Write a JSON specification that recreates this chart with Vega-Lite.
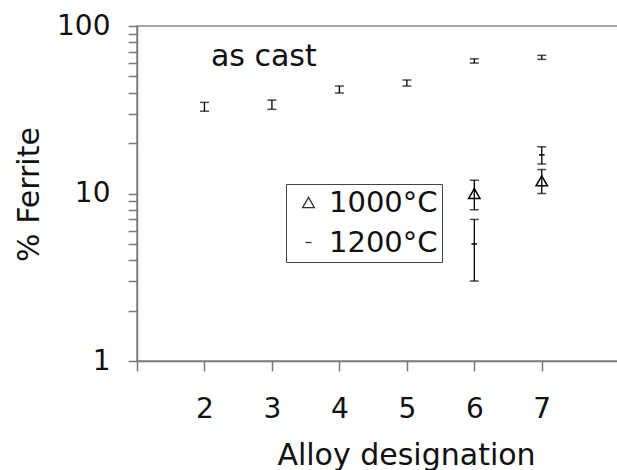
{
  "$schema": "https://vega.github.io/schema/vega-lite/v6.json",
  "autosize": "none",
  "padding": {"left": 137, "top": 26, "right": 0, "bottom": 109},
  "width": 481,
  "height": 335,
  "background": "white",
  "config": {
    "font": "DejaVu Sans",
    "view": {"stroke": "#8a8a8a", "strokeWidth": 1.5},
    "axis": {"grid": false, "domainColor": "#7a7a7a", "domainWidth": 1.5, "tickColor": "#7a7a7a", "tickWidth": 1.5, "labelColor": "#111", "titleColor": "#111", "labelFont": "DejaVu Sans", "titleFont": "DejaVu Sans", "titleFontWeight": "normal"}
  },
  "data": {"values": [
    {"alloy": 2, "group": "as cast", "value": 33.0, "lo": 31.0, "hi": 35.0},
    {"alloy": 3, "group": "as cast", "value": 34.0, "lo": 31.8, "hi": 36.1},
    {"alloy": 4, "group": "as cast", "value": 42.0, "lo": 39.8, "hi": 43.8},
    {"alloy": 5, "group": "as cast", "value": 45.8, "lo": 43.8, "hi": 47.6},
    {"alloy": 6, "group": "as cast", "value": 62.0, "lo": 60.1, "hi": 63.7},
    {"alloy": 7, "group": "as cast", "value": 65.0, "lo": 63.2, "hi": 66.8},
    {"alloy": 6, "group": "1000°C", "value": 10.0, "lo": 8.0, "hi": 12.0},
    {"alloy": 7, "group": "1000°C", "value": 11.9, "lo": 10.0, "hi": 13.9},
    {"alloy": 6, "group": "1200°C", "value": 5.0, "lo": 3.0, "hi": 7.0},
    {"alloy": 7, "group": "1200°C", "value": 17.0, "lo": 15.0, "hi": 19.0}
  ]},
  "encoding": {
    "x": {"field": "alloy", "type": "quantitative",
      "scale": {"domain": [1, 8.13], "nice": false, "zero": false},
      "axis": {"values": [1, 2, 3, 4, 5, 6, 7], "labelExpr": "datum.value == 1 ? '' : datum.label",
        "tickSize": 10, "labelFontSize": 28, "labelBaseline": "alphabetic", "labelPadding": 46,
        "title": "Alloy designation", "titleFontSize": 30, "titleBaseline": "alphabetic", "titleAnchor": "start", "titleAlign": "center", "titleX": 269, "titleY": 103}}
  },
  "layer": [
    {
      "mark": {"type": "rule", "color": "black", "strokeWidth": 1.3},
      "encoding": {
        "y": {"field": "lo", "type": "quantitative",
          "scale": {"type": "log", "domain": [1, 100], "nice": false},
          "axis": {"values": [1, 2, 3, 4, 5, 6, 7, 8, 9, 10, 20, 30, 40, 50, 60, 70, 80, 90, 100],
            "labelExpr": "(datum.value == 1 || datum.value == 10 || datum.value == 100) ? datum.label : ''",
            "format": "d", "tickSize": 9, "labelFontSize": 28, "labelPadding": 18, "labelBaseline": "middle",
            "title": "% Ferrite", "titleFontSize": 30, "titleAngle": 270, "titleBaseline": "alphabetic", "titleAlign": "center", "titleX": -99, "titleY": 168}},
        "y2": {"field": "hi"}
      }
    },
    {
      "mark": {"type": "tick", "orient": "horizontal", "color": "black", "size": 9, "thickness": 1.5},
      "encoding": {"y": {"field": "lo", "type": "quantitative"}}
    },
    {
      "mark": {"type": "tick", "orient": "horizontal", "color": "black", "size": 9, "thickness": 1.5},
      "encoding": {"y": {"field": "hi", "type": "quantitative"}}
    },
    {
      "transform": [{"filter": "datum.group != 'as cast'"}],
      "mark": {"type": "point", "filled": false, "stroke": "black", "strokeWidth": 1.5, "size": 130, "opacity": 1},
      "encoding": {
        "y": {"field": "value", "type": "quantitative"},
        "shape": {"field": "group", "type": "nominal",
          "scale": {"domain": ["1000°C", "1200°C"], "range": ["triangle-up", "M-0.5,0H0.5"]},
          "legend": {"title": null, "orient": "none", "legendX": 149, "legendY": 158,
            "strokeColor": "#444", "fillColor": "white", "padding": 4,
            "symbolOffset": 4, "labelOffset": 6, "labelFontSize": 29, "labelColor": "#111", "labelFont": "DejaVu Sans",
            "rowPadding": 10, "symbolStrokeColor": "#333", "symbolStrokeWidth": 1.3, "symbolSize": 140}}
      }
    },
    {
      "data": {"values": [{"label": "as cast", "alloy": 2.88, "value": 58}]},
      "mark": {"type": "text", "align": "center", "baseline": "alphabetic", "fontSize": 30, "color": "#111", "font": "DejaVu Sans"},
      "encoding": {
        "y": {"field": "value", "type": "quantitative"},
        "text": {"field": "label"}
      }
    }
  ]
}
